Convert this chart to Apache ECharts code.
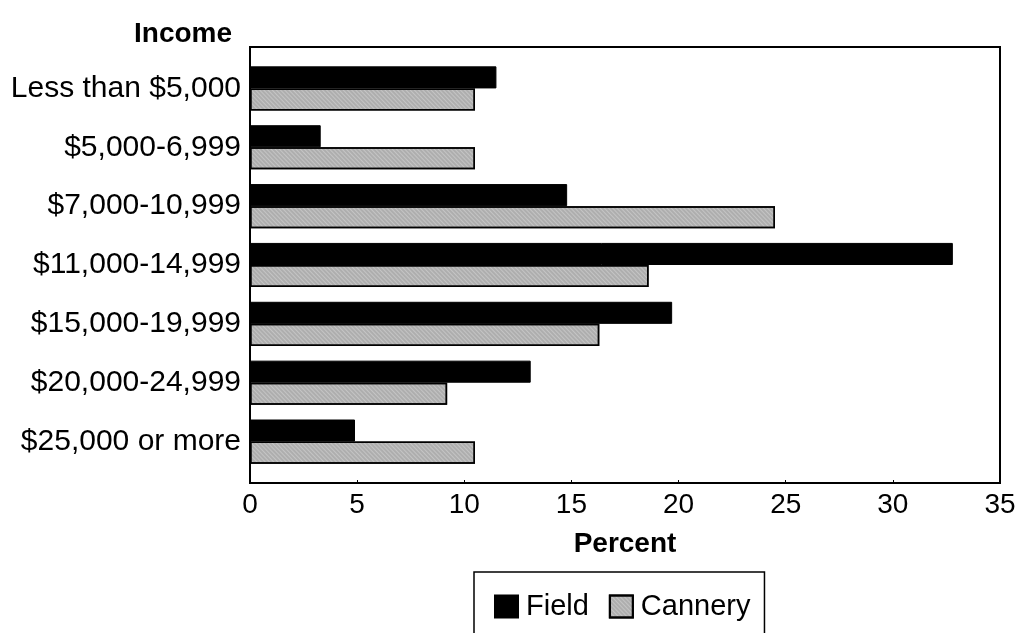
<!DOCTYPE html>
<html>
<head>
<meta charset="utf-8">
<script src="https://cdn.jsdelivr.net/npm/echarts@6/dist/echarts.min.js"></script>
<style>
  html, body { margin: 0; padding: 0; background: #fff; }
  #chart { width: 1019px; height: 633px; }
</style>
</head>
<body>
<div id="chart"></div>
<script>
// income brackets, top to bottom as drawn
var categories = ['Less than $5,000', '$5,000-6,999', '$7,000-10,999', '$11,000-14,999',
  '$15,000-19,999', '$20,000-24,999', '$25,000 or more'];
var fieldPct = [11.5, 3.3, 14.8, 32.8, 19.7, 13.1, 4.9];
var canneryPct = [10.5, 10.5, 24.5, 18.6, 16.3, 9.2, 10.5];
var xTicks = [0, 5, 10, 15, 20, 25, 30, 35];

var FONT = '"Liberation Sans", Arial, sans-serif';
var chart = echarts.init(document.getElementById('chart'));

var pattern = {
  symbol: 'rect',
  symbolSize: 0.6,
  dashArrayX: [1, 0],
  dashArrayY: [2, 1],
  color: 'rgba(50,50,50,0.5)',
  rotation: 0.8
};

chart.setOption({
  backgroundColor: '#fff',
  animation: false,
  textStyle: { fontFamily: FONT },
  title: {
    text: 'Income', left: 129, top: 15,
    textStyle: { fontFamily: FONT, fontSize: 28, fontWeight: 'bold', color: '#000' }
  },
  legend: {
    data: ['Field', 'Cannery'],
    left: 474, top: 572,
    padding: [20, 14, 30, 20],
    itemGap: 20,
    itemWidth: 23, itemHeight: 22,
    borderColor: '#000', borderWidth: 1.5,
    icon: 'rect',
    textStyle: { fontFamily: FONT, fontSize: 29, color: '#000', padding: [0, 0, 0, 3] }
  },
  grid: [
    // frame + visible x axis
    { left: 250, top: 47, width: 750, height: 436, show: true, borderColor: '#000', borderWidth: 2, backgroundColor: 'transparent' },
    // bars
    { left: 250, top: 59, width: 750, height: 412 }
  ],
  xAxis: [
    {
      gridIndex: 0, type: 'value', min: 0, max: 35, interval: 5,
      name: 'Percent', nameLocation: 'middle', nameGap: 47,
      nameTextStyle: { fontFamily: FONT, fontSize: 28, fontWeight: 'bold', color: '#000' },
      axisLine: { show: true, lineStyle: { color: '#000', width: 2 } },
      axisTick: { show: true, inside: true, length: 3, lineStyle: { color: '#000' } },
      splitLine: { show: false },
      axisLabel: {
        fontFamily: FONT, fontSize: 28, color: '#000', margin: 8,
        formatter: function(v) { return xTicks.indexOf(v) >= 0 ? String(v) : ''; }
      }
    },
    { gridIndex: 1, type: 'value', min: 0, max: 35, show: false }
  ],
  yAxis: [
    { gridIndex: 0, type: 'value', min: 0, max: 1, show: false },
    {
      gridIndex: 1, type: 'category', data: categories, inverse: true,
      axisLine: { show: false }, axisTick: { show: false },
      axisLabel: { fontFamily: FONT, fontSize: 30, color: '#000', margin: 9 }
    }
  ],
  series: [
    {
      name: 'Field', type: 'bar', xAxisIndex: 1, yAxisIndex: 1,
      data: fieldPct, barGap: '0%', barCategoryGap: '25%',
      itemStyle: { color: '#000', borderColor: '#000', borderWidth: 1 }
    },
    {
      name: 'Cannery', type: 'bar', xAxisIndex: 1, yAxisIndex: 1,
      data: canneryPct, barGap: '0%', barCategoryGap: '25%',
      itemStyle: { color: '#c4c4c4', borderColor: '#000', borderWidth: 1.5, decal: pattern }
    }
  ]
});
</script>
</body>
</html>
